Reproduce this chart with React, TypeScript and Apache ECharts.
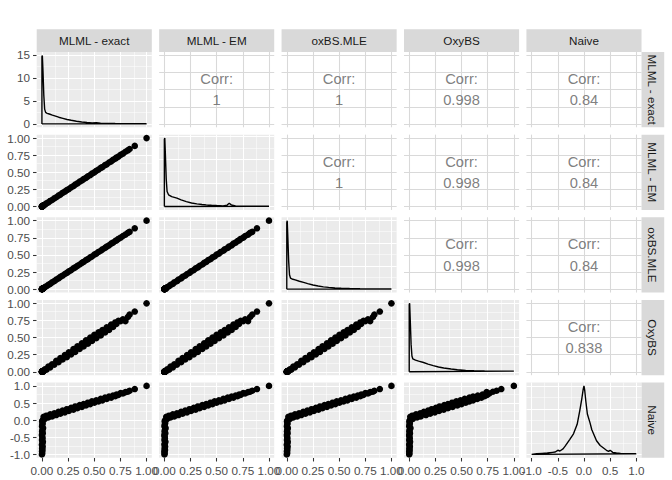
import React, { useEffect, useRef } from "react";
import * as echarts from "echarts";

// ---------- data ----------
const varNames = ["MLML - exact", "MLML - EM", "oxBS.MLE", "OxyBS", "Naive"];

// per-site estimates for each method (same site order in every array)
const mlmlExact = [
  0.000, 0.003, 0.001, 0.005, 0.002, 0.007, 0.000, 0.004, 0.009, 0.001, 0.006, 0.003, 0.000, 0.008, 0.002, 0.005, 0.011, 0.001, 0.004, 0.007, 0.002, 0.010,
  0.016, 0.028, 0.043, 0.061, 0.079, 0.097, 0.118, 0.137, 0.158, 0.176, 0.197, 0.219, 0.238, 0.257, 0.279, 0.301, 0.318, 0.339, 0.361, 0.382, 0.398, 0.421,
  0.439, 0.462, 0.478, 0.501, 0.519, 0.541, 0.562, 0.578, 0.603, 0.619, 0.641, 0.662, 0.679, 0.701,
  0.712, 0.731, 0.752, 0.774, 0.798, 0.821, 0.838, 0.887, 1.000,
];
const mlmlEM = [
  0.001, 0.003, 0.000, 0.006, 0.002, 0.007, 0.001, 0.004, 0.010, 0.001, 0.005, 0.003, 0.000, 0.009, 0.002, 0.006, 0.012, 0.001, 0.004, 0.008, 0.003, 0.011,
  0.018, 0.027, 0.045, 0.059, 0.081, 0.095, 0.120, 0.135, 0.160, 0.174, 0.199, 0.217, 0.240, 0.255, 0.281, 0.299, 0.320, 0.337, 0.363, 0.380, 0.400, 0.419,
  0.441, 0.460, 0.480, 0.499, 0.521, 0.539, 0.564, 0.576, 0.605, 0.617, 0.643, 0.660, 0.681, 0.699,
  0.714, 0.729, 0.754, 0.772, 0.800, 0.819, 0.840, 0.885, 1.000,
];
const oxbsMLE = [
  0.000, 0.004, 0.001, 0.005, 0.003, 0.008, 0.000, 0.005, 0.009, 0.002, 0.006, 0.003, 0.001, 0.008, 0.002, 0.005, 0.010, 0.001, 0.004, 0.007, 0.002, 0.010,
  0.015, 0.030, 0.042, 0.062, 0.078, 0.099, 0.117, 0.139, 0.157, 0.178, 0.196, 0.221, 0.237, 0.259, 0.278, 0.303, 0.317, 0.341, 0.360, 0.384, 0.397, 0.423,
  0.438, 0.464, 0.477, 0.503, 0.518, 0.543, 0.561, 0.580, 0.602, 0.621, 0.640, 0.664, 0.678, 0.703,
  0.711, 0.733, 0.751, 0.776, 0.797, 0.823, 0.837, 0.889, 1.000,
];
const oxyBS = [
  0.000, 0.002, 0.000, 0.004, 0.001, 0.006, 0.000, 0.003, 0.008, 0.000, 0.005, 0.002, 0.000, 0.007, 0.001, 0.004, 0.012, 0.000, 0.003, 0.006, 0.001, 0.009,
  0.010, 0.035, 0.030, 0.075, 0.065, 0.110, 0.105, 0.160, 0.140, 0.200, 0.180, 0.245, 0.215, 0.285, 0.255, 0.330, 0.290, 0.370, 0.335, 0.415, 0.370, 0.460,
  0.410, 0.500, 0.450, 0.540, 0.490, 0.575, 0.530, 0.610, 0.575, 0.650, 0.610, 0.690, 0.655, 0.720,
  0.700, 0.745, 0.740, 0.765, 0.740, 0.800, 0.835, 0.880, 1.000,
];
const naive = [
  -1.00, -0.96, -0.91, -0.87, -0.82, -0.77, -0.72, -0.68, -0.63, -0.58, -0.53, -0.48, -0.43, -0.38, -0.33, -0.28, -0.23, -0.18, -0.13, -0.08, -0.03, 0.01,
  0.10, 0.04, 0.13, 0.08, 0.17, 0.11, 0.20, 0.15, 0.24, 0.19, 0.28, 0.23, 0.32, 0.27, 0.36, 0.31, 0.40, 0.35, 0.44, 0.39, 0.47, 0.43,
  0.51, 0.47, 0.55, 0.51, 0.58, 0.55, 0.62, 0.58, 0.66, 0.62, 0.69, 0.66, 0.72, 0.70,
  0.75, 0.74, 0.79, 0.78, 0.82, 0.83, 0.86, 0.91, 1.00,
];

// correlation labels of the upper panels, by row
const corrRow1 = ["1", "1", "0.998", "0.84"];
const corrRow2 = ["1", "0.998", "0.84"];
const corrRow3 = ["0.998", "0.84"];
const corrRow4 = ["0.838"];

// diagonal density curves
const exactDensX = [0, 0.004, 0.01, 0.018, 0.026, 0.035, 0.05, 0.07, 0.1, 0.13, 0.16, 0.2, 0.24, 0.28, 0.33, 0.38, 0.43, 0.48, 0.52, 0.56, 0.62, 0.7, 0.8, 0.9, 1.0];
const exactDensY = [14.6, 14.9, 11.5, 6.2, 3.2, 2.5, 2.3, 2.15, 1.9, 1.7, 1.45, 1.2, 0.95, 0.78, 0.58, 0.42, 0.3, 0.22, 0.25, 0.15, 0.1, 0.07, 0.05, 0.04, 0.04];
const emDensX = [0, 0.004, 0.01, 0.018, 0.026, 0.04, 0.07, 0.12, 0.16, 0.21, 0.26, 0.31, 0.36, 0.4, 0.45, 0.5, 0.56, 0.6, 0.62, 0.64, 0.68, 0.75, 0.85, 1.0];
const emDensY = [14.3, 14.6, 11, 5.8, 3.2, 2.5, 2.1, 1.8, 1.4, 1.05, 0.75, 0.55, 0.42, 0.35, 0.27, 0.2, 0.13, 0.3, 0.7, 0.35, 0.12, 0.08, 0.06, 0.05];
const mleDensX = [0, 0.004, 0.01, 0.018, 0.026, 0.035, 0.05, 0.08, 0.12, 0.16, 0.2, 0.25, 0.3, 0.35, 0.4, 0.46, 0.52, 0.6, 0.7, 0.8, 0.9, 1.0];
const mleDensY = [14.4, 14.8, 11.2, 6.0, 3.1, 2.4, 2.2, 2.0, 1.7, 1.45, 1.2, 0.9, 0.68, 0.5, 0.38, 0.27, 0.2, 0.13, 0.08, 0.06, 0.05, 0.04];
const oxyDensX = [0, 0.004, 0.01, 0.018, 0.026, 0.034, 0.06, 0.09, 0.137, 0.18, 0.23, 0.28, 0.33, 0.4, 0.46, 0.54, 0.62, 0.72, 0.85, 1.0];
const oxyDensY = [19.6, 20, 15, 8, 4.6, 3.8, 3.4, 3.1, 2.7, 2.25, 1.8, 1.4, 1.1, 0.8, 0.6, 0.42, 0.3, 0.24, 0.2, 0.2];
const naiveDensX = [-1.0, -0.9, -0.8, -0.7, -0.6, -0.55, -0.5, -0.46, -0.4, -0.36, -0.27, -0.2, -0.13, -0.08, -0.04, -0.015, 0, 0.015, 0.035, 0.065, 0.116, 0.15, 0.24, 0.31, 0.43, 0.47, 0.5, 0.55, 0.62, 0.7, 0.85, 1.0];
const naiveDensY = [0.03, 0.03, 0.045, 0.06, 0.09, 0.105, 0.18, 0.15, 0.24, 0.36, 0.66, 0.9, 1.32, 1.92, 2.46, 2.85, 3.0, 2.79, 2.34, 1.77, 1.38, 1.08, 0.6, 0.39, 0.18, 0.135, 0.18, 0.09, 0.06, 0.045, 0.03, 0.03];

// tick labels / grid breaks
const ticks01 = [0, 0.25, 0.5, 0.75, 1];
const minor01 = [0.125, 0.375, 0.625, 0.875];
const ticksNaive = [-1, -0.5, 0, 0.5, 1];
const minorNaive = [-0.75, -0.25, 0.25, 0.75];
const densTicks15 = [0, 5, 10, 15];
const densMinor15 = [2.5, 7.5, 12.5];
const densTicks20 = [0, 5, 10, 15, 20];
const densMinor20 = [2.5, 7.5, 12.5, 17.5];
const densTicks3 = [0, 1, 2, 3];
const densMinor3 = [0.5, 1.5, 2.5];

// ---------- layout / style ----------
const FONT = '"Liberation Sans", Arial, Helvetica, sans-serif';
const PANEL_LEFT = 36.7;
const PANEL_TOP = 52;
const PANEL_W = 115.1;
const PANEL_H = 75.3;
const GAP = 7.33;
const STRIP = 22.7;

const vars = [
  { sites: mlmlExact, ticks: ticks01, minor: minor01, digits: 2, dx: exactDensX, dy: exactDensY, dt: densTicks15, dm: densMinor15 },
  { sites: mlmlEM, ticks: ticks01, minor: minor01, digits: 2, dx: emDensX, dy: emDensY, dt: densTicks15, dm: densMinor15 },
  { sites: oxbsMLE, ticks: ticks01, minor: minor01, digits: 2, dx: mleDensX, dy: mleDensY, dt: densTicks15, dm: densMinor15 },
  { sites: oxyBS, ticks: ticks01, minor: minor01, digits: 2, dx: oxyDensX, dy: oxyDensY, dt: densTicks20, dm: densMinor20 },
  { sites: naive, ticks: ticksNaive, minor: minorNaive, digits: 1, dx: naiveDensX, dy: naiveDensY, dt: densTicks3, dm: densMinor3 },
];
const corrRows = [corrRow1, corrRow2, corrRow3, corrRow4];

function dataRange(values: number[]): [number, number] {
  const mn = Math.min(...values);
  const mx = Math.max(...values);
  const pad = (mx - mn) * 0.05;
  return [mn - pad, mx + pad];
}
function densRange(values: number[]): [number, number] {
  const mx = Math.max(...values);
  return [-0.05 * mx, mx * 1.05];
}

function buildOption() {
  const grids: any[] = [];
  const xAxes: any[] = [];
  const yAxes: any[] = [];
  const series: any[] = [];
  const graphics: any[] = [];
  const n = vars.length;

  const colLeft = (c: number) => PANEL_LEFT + c * (PANEL_W + GAP);
  const rowTop = (r: number) => PANEL_TOP + r * (PANEL_H + GAP);

  const axisLabelStyle = { color: "#4D4D4D", fontSize: 11.7, fontFamily: FONT };
  const tickStyle = { color: "#333333", width: 1.07 };

  for (let r = 0; r < n; r++) {
    for (let c = 0; c < n; c++) {
      const idx = r * n + c;
      const isDiag = r === c;
      const isUpper = c > r;
      grids.push({
        left: colLeft(c),
        top: rowTop(r),
        width: PANEL_W,
        height: PANEL_H,
        show: true,
        backgroundColor: isUpper ? "#FFFFFF" : "#EBEBEB",
        borderWidth: 0,
        containLabel: false,
      });
      const vx = vars[c];
      const vy = vars[r];
      const xr = dataRange(vx.sites);
      const yr = isDiag ? densRange(vy.dy) : dataRange(vy.sites);
      const yTicks = isDiag ? vy.dt : vy.ticks;
      const yMinor = isDiag ? vy.dm : vy.minor;
      const showX = r === n - 1;
      const showY = c === 0;
      const xDigits = vx.digits;
      const yIsDens = isDiag;
      xAxes.push({
        gridIndex: idx,
        type: "value",
        min: xr[0],
        max: xr[1],
        axisLine: { show: false, onZero: false },
        splitLine: { show: false },
        axisTick: { show: showX, length: 3.67, lineStyle: tickStyle, customValues: vx.ticks },
        axisLabel: {
          show: showX,
          customValues: vx.ticks,
          margin: 6.6,
          ...axisLabelStyle,
          formatter: (v: number) => v.toFixed(xDigits),
        },
      });
      yAxes.push({
        gridIndex: idx,
        type: "value",
        min: yr[0],
        max: yr[1],
        axisLine: { show: false, onZero: false },
        splitLine: { show: false },
        axisTick: { show: showY, length: 3.67, lineStyle: tickStyle, customValues: yTicks },
        axisLabel: {
          show: showY,
          customValues: yTicks,
          margin: 6.6,
          ...axisLabelStyle,
          formatter: (v: number) => (yIsDens ? String(v) : v.toFixed(vy.digits)),
        },
      });

      // grid lines
      const lines: any[] = [];
      if (isUpper) {
        const st = { color: "#D9D9D9", width: 1.07, type: "solid" };
        vx.ticks.forEach((v) => lines.push({ xAxis: v, lineStyle: st }));
        yTicks.forEach((v) => lines.push({ yAxis: v, lineStyle: st }));
      } else {
        const maj = { color: "#FFFFFF", width: 1.07, type: "solid" };
        const min = { color: "#FFFFFF", width: 0.53, type: "solid" };
        vx.minor.forEach((v) => lines.push({ xAxis: v, lineStyle: min }));
        yMinor.forEach((v) => lines.push({ yAxis: v, lineStyle: min }));
        vx.ticks.forEach((v) => lines.push({ xAxis: v, lineStyle: maj }));
        yTicks.forEach((v) => lines.push({ yAxis: v, lineStyle: maj }));
      }
      series.push({
        type: "scatter",
        xAxisIndex: idx,
        yAxisIndex: idx,
        data: [],
        silent: true,
        z: 1,
        markLine: {
          z: 1,
          silent: true,
          symbol: ["none", "none"],
          label: { show: false },
          emphasis: { disabled: true },
          animation: false,
          data: lines,
        },
      });

      if (isDiag) {
        const pts: number[][] = [[vy.dx[0], 0]];
        vy.dx.forEach((x, i) => pts.push([x, vy.dy[i]]));
        pts.push([vy.dx[vy.dx.length - 1], 0]);
        pts.push([vy.dx[0], 0]);
        series.push({
          type: "line",
          xAxisIndex: idx,
          yAxisIndex: idx,
          data: pts,
          showSymbol: false,
          symbol: "none",
          silent: true,
          z: 10,
          lineStyle: { color: "#000000", width: 1.4 },
        });
      } else if (!isUpper) {
        series.push({
          type: "scatter",
          xAxisIndex: idx,
          yAxisIndex: idx,
          data: vx.sites.map((x, i) => [x, vy.sites[i]]),
          symbolSize: 6.6,
          silent: true,
          z: 10,
          itemStyle: { color: "#000000", opacity: 1 },
        });
      } else {
        const label = corrRows[r][c - r - 1];
        series.push({
          type: "scatter",
          xAxisIndex: idx,
          yAxisIndex: idx,
          data: [[(xr[0] + xr[1]) / 2, (yr[0] + yr[1]) / 2]],
          symbolSize: 0,
          silent: true,
          z: 10,
          itemStyle: { color: "transparent" },
          label: {
            show: true,
            position: "inside",
            formatter: "Corr:\n" + label,
            fontSize: 14.7,
            lineHeight: 21.5,
            color: "#5E5E5E",
            fontFamily: FONT,
          },
        });
      }
    }
  }

  // strips
  for (let c = 0; c < n; c++) {
    graphics.push({
      type: "rect",
      shape: { x: colLeft(c), y: PANEL_TOP - STRIP, width: PANEL_W, height: STRIP },
      style: { fill: "#D9D9D9" },
      silent: true,
    });
    graphics.push({
      type: "text",
      x: colLeft(c) + PANEL_W / 2,
      y: PANEL_TOP - STRIP / 2,
      silent: true,
      style: {
        text: varNames[c],
        fill: "#1A1A1A",
        fontSize: 11.7,
        fontFamily: FONT,
        align: "center",
        verticalAlign: "middle",
        textAlign: "center",
        textVerticalAlign: "middle",
      },
    });
  }
  const stripX = colLeft(n - 1) + PANEL_W;
  for (let r = 0; r < n; r++) {
    graphics.push({
      type: "rect",
      shape: { x: stripX, y: rowTop(r), width: STRIP, height: PANEL_H },
      style: { fill: "#D9D9D9" },
      silent: true,
    });
    graphics.push({
      type: "text",
      x: stripX + STRIP / 2,
      y: rowTop(r) + PANEL_H / 2,
      rotation: -Math.PI / 2,
      silent: true,
      style: {
        text: varNames[r],
        fill: "#1A1A1A",
        fontSize: 11.7,
        fontFamily: FONT,
        align: "center",
        verticalAlign: "middle",
        textAlign: "center",
        textVerticalAlign: "middle",
      },
    });
  }

  return {
    animation: false,
    backgroundColor: "#FFFFFF",
    grid: grids,
    xAxis: xAxes,
    yAxis: yAxes,
    series,
    graphic: { elements: graphics },
  };
}

export default function App() {
  const ref = useRef<HTMLDivElement>(null);
  useEffect(() => {
    if (!ref.current) return;
    const chart = echarts.init(ref.current, undefined, { renderer: "svg" });
    chart.setOption(buildOption() as any);
    return () => chart.dispose();
  }, []);
  return (
    <div
      ref={ref}
      style={{ position: "fixed", left: 0, top: 0, width: 672, height: 480, background: "#fff" }}
    />
  );
}
